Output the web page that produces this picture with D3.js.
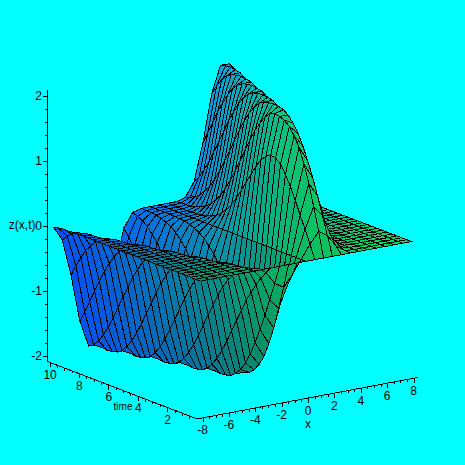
<!DOCTYPE html>
<html>
<head>
<meta charset="utf-8">
<title>z(x,t)</title>
<style>
  html, body { margin: 0; padding: 0; background: #00ffff; }
  svg { display: block; }
  text { font-family: "Liberation Sans", sans-serif; font-size: 12px; fill: #000; }
</style>
<script src="https://cdnjs.cloudflare.com/ajax/libs/d3/7.8.5/d3.min.js"></script>
</head>
<body>
<svg id="plot" width="465" height="465"></svg>
<script>
// grid columns (x) and rows (time)
const xValues = [-8, -7.33, -6.67, -6, -5.33, -4.67, -4, -3.33, -2.67, -2, -1.33, -0.67, 0,
                 0.67, 1.33, 2, 2.67, 3.33, 4, 4.67, 5.33, 6, 6.67, 7.33, 8];
const tValues = [0, 0.33, 0.67, 1, 1.33, 1.67, 2, 2.33, 2.67, 3, 3.33, 3.67, 4, 4.33, 4.67, 5,
                 5.33, 5.67, 6, 6.33, 6.67, 7, 7.33, 7.67, 8, 8.33, 8.67, 9, 9.33, 9.67, 10];

// height, one row per time value
const zRows = [
  [0,0,0,0,0,0,0,0,0,0,0,0,0,0,0,0,0,0,0,0,0,0,0,0,0],
  [0,0,0,0,0,0,0,-.01,-.1,-.29,-.38,-.21,0,.21,.38,.29,.1,.01,0,0,0,0,0,0,0],
  [0,0,0,0,0,0,0,-.04,-.22,-.57,-.73,-.41,0,.41,.73,.57,.22,.04,0,0,0,0,0,0,0],
  [0,0,0,0,0,0,-.01,-.07,-.34,-.84,-1.06,-.6,0,.6,1.06,.84,.34,.07,.01,0,0,0,0,0,0],
  [0,0,0,0,0,0,-.01,-.11,-.49,-1.09,-1.33,-.8,0,.8,1.33,1.09,.49,.11,.01,0,0,0,0,0,0],
  [0,0,0,0,0,0,-.02,-.17,-.64,-1.32,-1.56,-.98,0,.98,1.56,1.32,.64,.17,.02,0,0,0,0,0,0],
  [0,0,0,0,0,0,-.04,-.26,-.83,-1.52,-1.71,-1.14,0,1.14,1.71,1.52,.83,.26,.04,0,0,0,0,0,0],
  [0,0,0,0,0,-.01,-.07,-.36,-1.01,-1.69,-1.82,-1.27,0,1.27,1.82,1.69,1.01,.36,.07,.01,0,0,0,0,0],
  [0,0,0,0,0,-.01,-.11,-.5,-1.2,-1.82,-1.89,-1.33,0,1.33,1.89,1.82,1.2,.5,.11,.01,0,0,0,0,0],
  [0,0,0,0,0,-.02,-.17,-.65,-1.39,-1.91,-1.92,-1.35,0,1.35,1.92,1.91,1.39,.65,.17,.02,0,0,0,0,0],
  [0,0,0,0,0,-.04,-.26,-.83,-1.56,-1.97,-1.93,-1.3,0,1.3,1.93,1.97,1.56,.83,.26,.04,0,0,0,0,0],
  [0,0,0,0,-.01,-.07,-.36,-1.01,-1.71,-1.99,-1.9,-1.22,0,1.22,1.9,1.99,1.71,1.01,.36,.07,.01,0,0,0,0],
  [0,0,0,0,-.01,-.11,-.5,-1.2,-1.83,-2,-1.82,-1.09,0,1.09,1.82,2,1.83,1.2,.5,.11,.01,0,0,0,0],
  [0,0,0,0,-.02,-.17,-.65,-1.39,-1.92,-1.99,-1.7,-.94,0,.94,1.7,1.99,1.92,1.39,.65,.17,.02,0,0,0,0],
  [0,0,0,0,-.04,-.26,-.83,-1.56,-1.97,-1.97,-1.56,-.79,0,.79,1.56,1.97,1.97,1.56,.83,.26,.04,0,0,0,0],
  [0,0,0,-.01,-.07,-.36,-1.01,-1.71,-1.99,-1.92,-1.39,-.63,0,.63,1.39,1.92,1.99,1.71,1.01,.36,.07,.01,0,0,0],
  [0,0,0,-.01,-.11,-.5,-1.2,-1.83,-2,-1.83,-1.2,-.49,0,.49,1.2,1.83,2,1.83,1.2,.5,.11,.01,0,0,0],
  [0,0,0,-.02,-.17,-.65,-1.39,-1.92,-1.99,-1.71,-1.01,-.35,0,.35,1.01,1.71,1.99,1.92,1.39,.65,.17,.02,0,0,0],
  [0,0,0,-.04,-.26,-.83,-1.56,-1.97,-1.97,-1.56,-.83,-.26,0,.26,.83,1.56,1.97,1.97,1.56,.83,.26,.04,0,0,0],
  [0,0,-.01,-.07,-.36,-1.01,-1.71,-1.99,-1.92,-1.39,-.65,-.17,0,.17,.65,1.39,1.92,1.99,1.71,1.01,.36,.07,.01,0,0],
  [0,0,-.01,-.11,-.5,-1.2,-1.83,-2,-1.83,-1.2,-.5,-.11,0,.11,.5,1.2,1.83,2,1.83,1.2,.5,.11,.01,0,0],
  [0,0,-.02,-.17,-.65,-1.39,-1.92,-1.99,-1.71,-1.01,-.36,-.07,0,.07,.36,1.01,1.71,1.99,1.92,1.39,.65,.17,.02,0,0],
  [0,0,-.04,-.26,-.83,-1.56,-1.97,-1.97,-1.56,-.83,-.26,-.04,0,.04,.26,.83,1.56,1.97,1.97,1.56,.83,.26,.04,0,0],
  [0,-.01,-.07,-.36,-1.01,-1.71,-1.99,-1.92,-1.39,-.65,-.17,-.02,0,.02,.17,.65,1.39,1.92,1.99,1.71,1.01,.36,.07,.01,0],
  [0,-.01,-.11,-.5,-1.2,-1.83,-2,-1.83,-1.2,-.5,-.11,-.01,0,.01,.11,.5,1.2,1.83,2,1.83,1.2,.5,.11,.01,0],
  [0,-.02,-.17,-.65,-1.39,-1.92,-1.99,-1.71,-1.01,-.36,-.07,-.01,0,.01,.07,.36,1.01,1.71,1.99,1.92,1.39,.65,.17,.02,0],
  [0,-.04,-.26,-.83,-1.56,-1.97,-1.97,-1.56,-.83,-.26,-.04,0,0,0,.04,.26,.83,1.56,1.97,1.97,1.56,.83,.26,.04,0],
  [-.01,-.07,-.36,-1.01,-1.71,-1.99,-1.92,-1.39,-.65,-.17,-.02,0,0,0,.02,.17,.65,1.39,1.92,1.99,1.71,1.01,.36,.07,.01],
  [-.01,-.11,-.5,-1.2,-1.83,-2,-1.83,-1.2,-.5,-.11,-.01,0,0,0,.01,.11,.5,1.2,1.83,2,1.83,1.2,.5,.11,.01],
  [-.02,-.17,-.65,-1.39,-1.92,-1.99,-1.71,-1.01,-.36,-.07,-.01,0,0,0,.01,.07,.36,1.01,1.71,1.99,1.92,1.39,.65,.17,.02],
  [-.04,-.26,-.83,-1.56,-1.97,-1.97,-1.56,-.83,-.26,-.04,0,0,0,0,0,.04,.26,.83,1.56,1.97,1.97,1.56,.83,.26,.04]
];

const xTicks = [-8, -6, -4, -2, 0, 2, 4, 6, 8];
const tTicks = [2, 4, 6, 8, 10];
const zTicks = [-2, -1, 0, 1, 2];
const xMinor = [-7.5, -7, -6.5, -5.5, -5, -4.5, -3.5, -3, -2.5, -1.5, -1, -0.5,
                0.5, 1, 1.5, 2.5, 3, 3.5, 4.5, 5, 5.5, 6.5, 7, 7.5];
const tMinor = [0.5, 1, 1.5, 2.5, 3, 3.5, 4.5, 5, 5.5, 6.5, 7, 7.5, 8.5, 9, 9.5];
const zMinor = [-1.8, -1.6, -1.4, -1.2, -0.8, -0.6, -0.4, -0.2,
                0.2, 0.4, 0.6, 0.8, 1.2, 1.4, 1.6, 1.8];

// oblique view: each data axis adds its own screen offset
const originX = 308.5, originY = 398;
const xToSx = d3.scaleLinear().domain([-8, 8]).range([-105.5, 105.5]);
const xToSy = d3.scaleLinear().domain([-8, 8]).range([19.8, -19.8]);
const tToSx = d3.scaleLinear().domain([0, 10]).range([0, -147]);
const tToSy = d3.scaleLinear().domain([0, 10]).range([0, -56.4]);
const zToSy = d3.scaleLinear().domain([-2.08, 2.09]).range([0, -271]);

function project(x, t, z) {
    return [
        originX + xToSx(x) + tToSx(t),
        originY + xToSy(x) + tToSy(t) + zToSy(z)
    ];
}

// colour drifts from blue (far left) to green (near right)
function cellColor(x, t, z) {
    const dark = z < 0 ? z * (1 - t / 10) : 0;
    const r = 10 + 0.8 * x;
    const g = 186 + 4.8 * x - 6.8 * t + (z > 0 ? 12 : 5) * z + 15 * dark;
    const b = 94 + 13.5 * t - 1.8 * x + 11 * dark;
    return d3.rgb(r, g, b).formatHex();
}

const svg = d3.select("#plot");
const line = d3.line();

// surface, painted back to front
const surface = svg.append("g").attr("transform", "translate(-2.5,-1.5)");
const cells = [];
for (let j = tValues.length - 2; j >= 0; j--) {
    for (let i = xValues.length - 2; i >= 0; i--) {
        const corners = [
            [i, j], [i + 1, j], [i + 1, j + 1], [i, j + 1]
        ];
        cells.push(corners.map(c => ({
            x: xValues[c[0]],
            t: tValues[c[1]],
            z: zRows[c[1]][c[0]]
        })));
    }
}

surface.selectAll("path")
    .data(cells)
    .enter().append("path")
    .attr("d", d => line(d.map(p => project(p.x, p.t, p.z))) + "Z")
    .attr("fill", d => cellColor(d3.mean(d, p => p.x), d3.mean(d, p => p.t), d3.mean(d, p => p.z)))
    .attr("stroke", "#000")
    .attr("stroke-width", 1)
    .attr("shape-rendering", "crispEdges");

// axes
const axes = svg.append("g")
    .attr("stroke", "#000")
    .attr("shape-rendering", "crispEdges");

function axisLine(a, b) {
    axes.append("path").attr("fill", "none").attr("d", line([a, b]));
}

axisLine(project(-8.45, 0, -2.08), project(8.33, 0, -2.08));
axisLine(project(-8.45, 0, -2.08), project(-8.45, 10.2, -2.08));
axisLine(project(-8.45, 10.2, -2.08), project(-8.45, 10.2, 2.09));

function downTick(p, len) {
    axisLine(p, [p[0], p[1] + len]);
}

xTicks.forEach(v => downTick(project(v, 0, -2.08), 4.5));
xMinor.forEach(v => downTick(project(v, 0, -2.08), 2.5));
tTicks.forEach(v => downTick(project(-8.45, v, -2.08), 4.5));
tMinor.forEach(v => downTick(project(-8.45, v, -2.08), 2.5));

function leftTick(p, len) {
    axisLine([p[0] - len, p[1]], p);
}

zTicks.forEach(v => leftTick(project(-8.45, 10.2, v), 4));
zMinor.forEach(v => leftTick(project(-8.45, 10.2, v), 2.5));

// labels
const labels = svg.append("g");

function label(str, x, y, anchor) {
    return labels.append("text")
        .attr("x", x)
        .attr("y", y)
        .attr("text-anchor", anchor || "middle")
        .attr("dominant-baseline", "central")
        .text(str);
}

xTicks.forEach(v => {
    const p = project(v, 0, -2.08);
    label(v, p[0] - 0.5, p[1] + 12.5);
});
tTicks.forEach(v => {
    const p = project(-8.45, v, -2.08);
    label(v, p[0], p[1] + 12);
});
zTicks.forEach(v => {
    const p = project(-8.45, 10.2, v);
    label(v, 42, p[1], "end");
});
label("z(x,t)", 35.5, 225, "end");
label("time", 123, 406).style("font-size", "10px");
label("x", 308, 424);
</script>
</body>
</html>
